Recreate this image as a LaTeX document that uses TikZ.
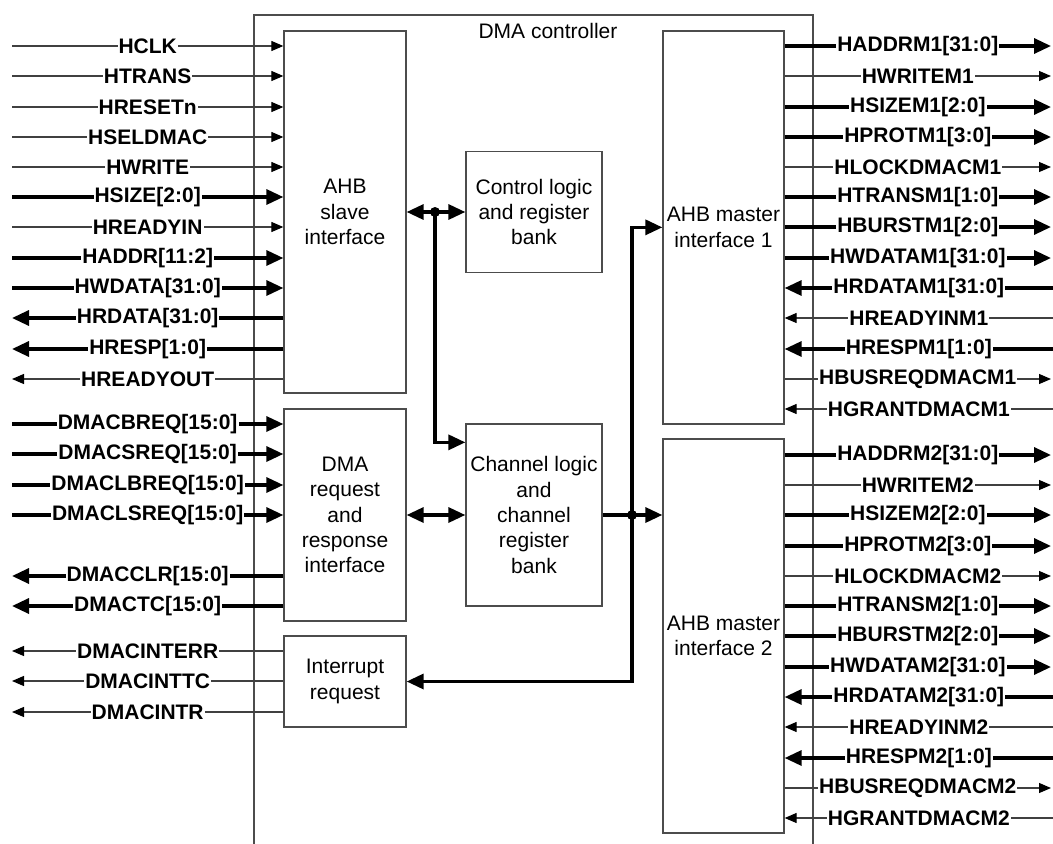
\documentclass[tikz,border=0pt]{standalone}
\usepackage{fontspec}
\setmainfont{Liberation Sans}
\usetikzlibrary{arrows.meta}
\newcommand{\blkfont}{\fontsize{21bp}{25.3bp}\selectfont}
\newcommand{\sigfont}{\fontsize{21bp}{25.3bp}\selectfont\bfseries}

\tikzset{
  blk/.style={draw=black!70, line width=1.3bp, inner sep=0pt, align=center, font=\blkfont},
  wire/.style={draw=black!75, line width=1.2bp, -{Triangle[length=12bp,width=10bp,color=black]}},
  bus/.style={line width=3.3bp, -{Triangle[length=17bp,width=15bp]}},
  busline/.style={line width=3.3bp},
  siglbl/.style={midway, fill=white, inner sep=1bp, font=\sigfont},
}

\begin{document}
\begin{tikzpicture}[x=1bp, y=-1bp]
  \useasboundingbox (0,0) rectangle (1053,844);
  % outer frame, open at the bottom
  \draw[draw=black!70, line width=1.3bp] (254,844) |- (813,15) -- (813,844);
  \node[font=\blkfont] (title) at (548,31) {DMA controller};

  % blocks
  \node[blk, minimum width=122bp, minimum height=362bp] (slave) at (345,212) {AHB\\slave\\interface};
  \node[blk, minimum width=122bp, minimum height=212bp] (dmareq) at (345,515) {DMA\\request\\and\\response\\interface};
  \node[blk, minimum width=122bp, minimum height=91bp] (intreq) at (345,681.5) {Interrupt\\request};
  \node[blk, minimum width=136bp, minimum height=121bp] (ctrl) at (534,212) {Control logic\\and register\\bank};
  \node[blk, minimum width=136bp, minimum height=182bp] (chan) at (534,515) {Channel logic\\and\\channel\\register\\bank};
  \node[blk, minimum width=121bp, minimum height=393bp] (m1) at (723.5,227.5) {AHB master\\interface 1};
  \node[blk, minimum width=121bp, minimum height=394bp] (m2) at (723.5,636) {AHB master\\interface 2};

  % internal buses
  \coordinate (j1) at (435,212);
  \coordinate (j2) at (632,515);
  \draw[bus, {Triangle[length=17bp,width=15bp]}-{Triangle[length=17bp,width=15bp]}] (slave.east) -- (ctrl.west);
  \draw[bus] (j1) |- ([yshift=-19bp]chan.north west);
  \fill (j1) circle[radius=5bp];
  \draw[bus, {Triangle[length=17bp,width=15bp]}-{Triangle[length=17bp,width=15bp]}] (dmareq.east) -- (chan.west);
  \draw[busline] (chan.east) -- (j2);
  \draw[bus] (j2) -- (chan.east -| m2.west);
  \draw[bus] (j2) |- ([yshift=-197bp]m1.north west);
  \draw[bus] (j2) |- (intreq.east);
  \fill (j2) circle[radius=5bp];

  % left side, inputs
  \foreach \ypos/\txt/\kind/\blkname in {46/HCLK/wire/slave, 76/HTRANS/wire/slave, 107/HRESETn/wire/slave,
      137/HSELDMAC/wire/slave, 167/HWRITE/wire/slave, 197/HSIZE[2:0]/bus/slave, 227/HREADYIN/wire/slave,
      258/HADDR[11:2]/bus/slave, 288/HWDATA[31:0]/bus/slave, 424/DMACBREQ[15:0]/bus/dmareq,
      454/DMACSREQ[15:0]/bus/dmareq, 485/DMACLBREQ[15:0]/bus/dmareq, 515/DMACLSREQ[15:0]/bus/dmareq}
  {
    \coordinate (lin\ypos) at (12,\ypos);
    \draw[\kind] (lin\ypos) -- (lin\ypos -| \blkname.west) node[siglbl] (lblin\ypos) {\txt};
  }
  % left side, outputs
  \foreach \ypos/\txt/\kind/\blkname in {318/HRDATA[31:0]/bus/slave, 349/HRESP[1:0]/bus/slave,
      379/HREADYOUT/wire/slave, 576/DMACCLR[15:0]/bus/dmareq, 606/DMACTC[15:0]/bus/dmareq,
      651/DMACINTERR/wire/intreq, 681/DMACINTTC/wire/intreq, 712/DMACINTR/wire/intreq}
  {
    \coordinate (lout\ypos) at (12,\ypos);
    \draw[\kind] (lout\ypos -| \blkname.west) -- (lout\ypos) node[siglbl] (lblout\ypos) {\txt};
  }

  % right side, outputs
  \foreach \ypos/\txt/\kind/\blkname in {46/HADDRM1[31:0]/bus/m1, 76/HWRITEM1/wire/m1, 107/HSIZEM1[2:0]/bus/m1,
      137/HPROTM1[3:0]/bus/m1, 167/HLOCKDMACM1/wire/m1, 197/HTRANSM1[1:0]/bus/m1, 227/HBURSTM1[2:0]/bus/m1,
      258/HWDATAM1[31:0]/bus/m1, 379/HBUSREQDMACM1/wire/m1,
      455/HADDRM2[31:0]/bus/m2, 485/HWRITEM2/wire/m2, 515/HSIZEM2[2:0]/bus/m2,
      546/HPROTM2[3:0]/bus/m2, 576/HLOCKDMACM2/wire/m2, 606/HTRANSM2[1:0]/bus/m2, 636/HBURSTM2[2:0]/bus/m2,
      667/HWDATAM2[31:0]/bus/m2, 788/HBUSREQDMACM2/wire/m2}
  {
    \coordinate (rout\ypos) at (1051,\ypos);
    \draw[\kind] (rout\ypos -| \blkname.east) -- (rout\ypos) node[siglbl] (lblrout\ypos) {\txt};
  }
  % right side, inputs
  \foreach \ypos/\txt/\kind/\blkname in {288/HRDATAM1[31:0]/bus/m1, 318/HREADYINM1/wire/m1,
      349/HRESPM1[1:0]/bus/m1, 409/HGRANTDMACM1/wire/m1,
      697/HRDATAM2[31:0]/bus/m2, 727/HREADYINM2/wire/m2, 758/HRESPM2[1:0]/bus/m2, 818/HGRANTDMACM2/wire/m2}
  {
    \coordinate (rin\ypos) at (1053,\ypos);
    \draw[\kind] (rin\ypos) -- (rin\ypos -| \blkname.east) node[siglbl] (lblrin\ypos) {\txt};
  }
\end{tikzpicture}
\end{document}
